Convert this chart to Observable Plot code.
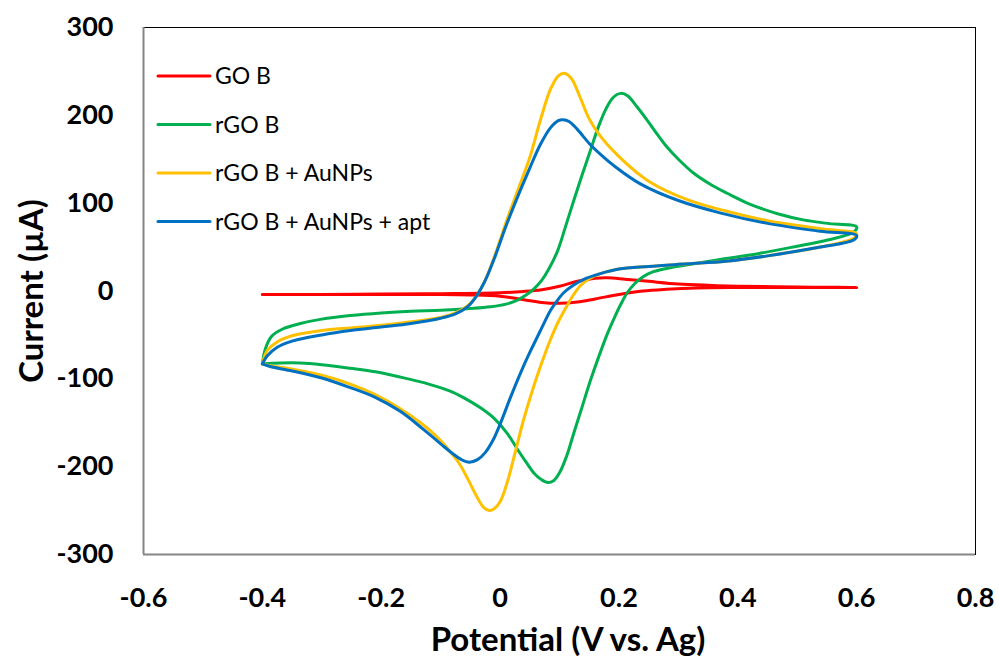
<!DOCTYPE html>
<html><head><meta charset="utf-8">
<script src="https://cdn.jsdelivr.net/npm/d3@7"></script>
<script src="https://cdn.jsdelivr.net/npm/@observablehq/plot@0.6"></script>
<style>
html,body{margin:0;padding:0;background:#fff;}
#wrap{position:relative;width:999px;height:659px;overflow:hidden;}
#overlay{position:absolute;left:0;top:0;pointer-events:none;}
</style></head><body><div id="wrap"></div>
<script>
const seriesNames = ["GO B", "rGO B", "rGO B + AuNPs", "rGO B + AuNPs + apt"];
const seriesColors = ["#FF0000", "#00B050", "#FFC000", "#0070C0"];
const xTicks = [-0.6, -0.4, -0.2, 0, 0.2, 0.4, 0.6, 0.8];
const xTickLabels = ["-0.6", "-0.4", "-0.2", "0", "0.2", "0.4", "0.6", "0.8"];
const yTicks = [-300, -200, -100, 0, 100, 200, 300];
const yTickLabels = ["-300", "-200", "-100", "0", "100", "200", "300"];
const xTitle = "Potential (V vs. Ag)";
const yTitle = "Current (µA)";

// GO B (closed loop: forward scan, then reverse scan)
const goX = [-0.4, -0.3, -0.2, -0.1, 0.0, 0.04, 0.07, 0.1, 0.13, 0.16, 0.18, 0.21, 0.25, 0.3, 0.35, 0.4, 0.5, 0.6,
             0.5, 0.4, 0.33, 0.28, 0.24, 0.2, 0.16, 0.13, 0.1, 0.07, 0.04, 0.0, -0.05, -0.1, -0.2, -0.3, -0.4];
const goY = [-4, -4, -3.5, -3, -2, -0.5, 1.5, 5.5, 11, 14.5, 15, 13.5, 11, 8, 6.5, 5.5, 4.5, 4,
             4, 4, 3.5, 2, 0, -4, -9, -12.5, -14, -13, -10, -6, -4.5, -4, -4, -4, -4];

// rGO B
const rgoX = [-0.4, -0.395, -0.385, -0.365, -0.336, -0.3, -0.252, -0.2, -0.15, -0.1, -0.05, -0.016, 0.01, 0.03, 0.045, 0.058, 0.07, 0.082, 0.097, 0.11, 0.124, 0.138, 0.152, 0.165, 0.178, 0.19, 0.203, 0.215, 0.23, 0.248, 0.265, 0.282, 0.3, 0.326, 0.355, 0.383, 0.42, 0.467, 0.51, 0.551, 0.6,
              0.595, 0.551, 0.5, 0.438, 0.38, 0.326, 0.29, 0.258, 0.24, 0.226, 0.214, 0.204, 0.194, 0.181, 0.167, 0.152, 0.138, 0.124, 0.112, 0.1, 0.09, 0.08, 0.07, 0.058, 0.045, 0.03, 0.012, -0.01, -0.033, -0.06, -0.084, -0.12, -0.168, -0.21, -0.252, -0.3, -0.336, -0.37, -0.4];
const rgoY = [-83, -66, -52, -43, -37, -32, -28, -25, -23, -22, -20, -18, -15, -10, -4, 3, 12, 25, 46, 73, 103, 132, 160, 186, 207, 220, 225, 222, 210, 194, 178, 163, 150, 134, 121, 111, 99, 88, 81, 77, 73,
              67, 58, 51, 43, 37, 31, 27, 22, 16, 8, -2, -14, -28, -48, -73, -102, -132, -162, -188, -207, -216, -218, -215, -208, -196, -181, -162, -145, -133, -122, -114, -106, -98, -92, -88, -84, -82, -82, -83];

// rGO B + AuNPs
const auX = [-0.4, -0.392, -0.375, -0.35, -0.3, -0.252, -0.2, -0.15, -0.1, -0.075, -0.055, -0.04, -0.025, -0.008, 0.01, 0.03, 0.05, 0.068, 0.085, 0.098, 0.108, 0.12, 0.135, 0.15, 0.169, 0.2, 0.25, 0.315, 0.38, 0.45, 0.539, 0.6,
             0.595, 0.539, 0.45, 0.38, 0.315, 0.25, 0.2, 0.17, 0.15, 0.135, 0.122, 0.11, 0.098, 0.085, 0.07, 0.055, 0.039, 0.025, 0.012, 0.0, -0.01, -0.018, -0.028, -0.04, -0.055, -0.07, -0.085, -0.105, -0.13, -0.168, -0.21, -0.252, -0.3, -0.35, -0.387, -0.4];
const auY = [-83, -68, -58, -51, -45, -42, -39, -35, -30, -25, -17, -6, 12, 42, 78, 115, 152, 195, 230, 245, 248, 242, 220, 196, 176, 153, 125, 104, 91, 80, 71, 65,
             60, 50, 40, 34, 31, 28, 25, 20, 14, 6, -6, -20, -35, -55, -82, -112, -148, -185, -218, -240, -248, -250, -246, -233, -213, -195, -182, -167, -152, -134, -118, -106, -96, -89, -85, -83];

// rGO B + AuNPs + apt
const aptX = [-0.4, -0.392, -0.375, -0.35, -0.3, -0.252, -0.2, -0.15, -0.1, -0.075, -0.055, -0.04, -0.025, -0.008, 0.01, 0.03, 0.05, 0.068, 0.085, 0.098, 0.106, 0.116, 0.13, 0.15, 0.17, 0.191, 0.236, 0.3, 0.37, 0.45, 0.539, 0.6,
              0.595, 0.539, 0.45, 0.38, 0.315, 0.25, 0.2, 0.17, 0.14, 0.122, 0.107, 0.095, 0.085, 0.068, 0.05, 0.034, 0.017, 0.001, -0.012, -0.025, -0.038, -0.052, -0.065, -0.08, -0.1, -0.13, -0.168, -0.21, -0.252, -0.3, -0.35, -0.387, -0.4];
const aptY = [-83, -74, -64, -57, -50, -45, -41, -37, -31, -26, -18, -6, 12, 40, 74, 108, 140, 167, 186, 194, 195, 193, 184, 168, 155, 143, 122, 103, 89, 77, 68, 63,
              58, 50, 40, 34, 31, 28, 25, 20, 13, 6, -2, -12, -22, -45, -70, -94, -122, -150, -170, -184, -192, -195, -192, -185, -174, -157, -137, -121, -110, -99, -91, -86, -83];

const seriesX = [goX, rgoX, auX, aptX];
const seriesY = [goY, rgoY, auY, aptY];
const rows = [];
seriesNames.forEach((s, k) => {
  seriesX[k].forEach((x, i) => rows.push({s, x, y: seriesY[k][i]}));
});

const fmt = (ticks, labels) => d => labels[ticks.findIndex(t => Math.abs(t - d) < 1e-9)];

const chart = Plot.plot({
  width: 999,
  height: 659,
  marginLeft: 143,
  marginRight: 24,
  marginTop: 27,
  marginBottom: 105,
  style: {fontFamily: "Lato, 'Open Sans', sans-serif", fontSize: "27px", fontWeight: "bold", color: "#000", background: "#fff", overflow: "visible"},
  x: {domain: [-0.6, 0.8], ticks: xTicks, tickFormat: fmt(xTicks, xTickLabels), tickSize: 0, tickPadding: 33, label: null},
  y: {domain: [-300, 300], ticks: yTicks, tickFormat: fmt(yTicks, yTickLabels), tickSize: 0, tickPadding: 30, label: null},
  color: {domain: seriesNames, range: seriesColors},
  marks: [
    Plot.frame({stroke: "#000", strokeWidth: 1}),
    Plot.ruleX([-0.6], {stroke: "#868686", strokeWidth: 2}),
    Plot.ruleY([-300], {stroke: "#868686", strokeWidth: 2}),
    Plot.line(rows, {x: "x", y: "y", z: "s", stroke: "s", strokeWidth: 3, curve: "catmull-rom", strokeLinejoin: "round", strokeLinecap: "round"})
  ]
});
const wrap = document.getElementById("wrap");
wrap.appendChild(chart);

// overlay: axis titles and legend
const ns = "http://www.w3.org/2000/svg";
const ov = document.createElementNS(ns, "svg");
ov.setAttribute("id", "overlay");
ov.setAttribute("width", 999);
ov.setAttribute("height", 659);
const mk = (tag, attrs, text) => {
  const e = document.createElementNS(ns, tag);
  for (const k in attrs) e.setAttribute(k, attrs[k]);
  if (text != null) e.textContent = text;
  ov.appendChild(e);
  return e;
};
mk("text", {x: 568, y: 651, "text-anchor": "middle", "font-family": "Lato, sans-serif", "font-weight": "bold", "font-size": 33, fill: "#000"}, xTitle);
mk("text", {transform: "translate(43,291) rotate(-90)", "text-anchor": "middle", "font-family": "Lato, sans-serif", "font-weight": "bold", "font-size": 33, fill: "#000"}, yTitle);
const legY0 = 76, legStep = 48.5;
seriesNames.forEach((s, k) => {
  const y = legY0 + k * legStep;
  mk("line", {x1: 158, x2: 210, y1: y, y2: y, stroke: seriesColors[k], "stroke-width": 3, "stroke-linecap": "round"});
  mk("text", {x: 215, y: y + 8, "font-family": "Lato, sans-serif", "font-size": 23, fill: "#000"}, s);
});
wrap.appendChild(ov);
</script>
</body></html>
